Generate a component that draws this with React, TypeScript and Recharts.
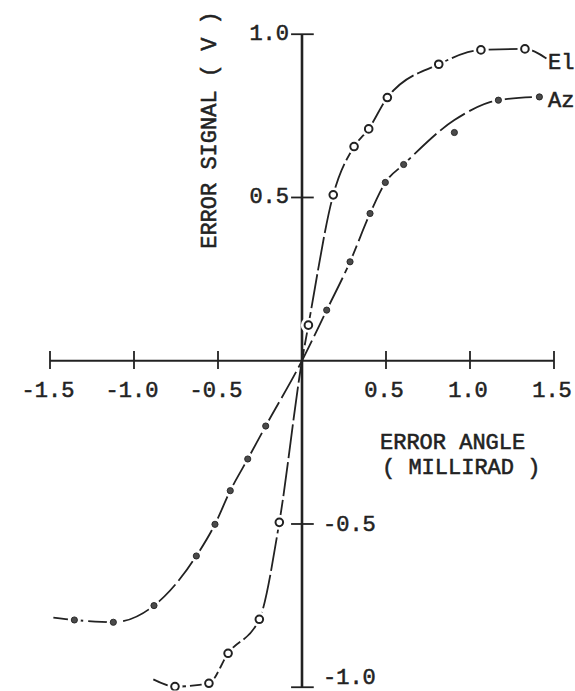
import React from 'react';
import { ComposedChart, Line, Scatter, XAxis, YAxis, ReferenceLine, ReferenceDot } from 'recharts';

// Measured points (open circles) – elevation channel
const elAngle = [-0.756, -0.554, -0.44, -0.254, -0.135, 0.038, 0.186, 0.31, 0.397, 0.508, 0.814, 1.065, 1.327];
const elSignal = [-0.998, -0.988, -0.896, -0.792, -0.495, 0.109, 0.508, 0.656, 0.71, 0.806, 0.908, 0.952, 0.955];
// Drawn curve – elevation channel
const elCurveAngle = [-0.885, -0.756, -0.554, -0.44, -0.254, -0.135, 0, 0.038, 0.186, 0.31, 0.397, 0.508, 0.814, 1.065, 1.327, 1.455];
const elCurveSignal = [-0.976, -0.998, -0.988, -0.896, -0.792, -0.495, 0, 0.109, 0.508, 0.656, 0.71, 0.806, 0.908, 0.952, 0.955, 0.926];

// Measured points (filled dots) – azimuth channel
const azAngle = [-1.355, -1.123, -0.881, -0.629, -0.518, -0.427, -0.323, -0.216, 0.147, 0.286, 0.405, 0.496, 0.605, 0.907, 1.169, 1.413];
const azSignal = [-0.794, -0.801, -0.75, -0.598, -0.501, -0.398, -0.301, -0.2, 0.155, 0.303, 0.451, 0.546, 0.601, 0.699, 0.798, 0.808];
// Drawn curve – azimuth channel
const azCurveAngle = [-1.48, -1.355, -1.123, -0.881, -0.629, -0.518, -0.427, -0.323, -0.216, 0, 0.147, 0.286, 0.405, 0.496, 0.605, 0.907, 1.169, 1.413];
const azCurveSignal = [-0.787, -0.794, -0.801, -0.75, -0.598, -0.501, -0.398, -0.301, -0.2, 0, 0.155, 0.303, 0.451, 0.546, 0.601, 0.737, 0.798, 0.808];

const xTickValues = [-1.5, -1.0, -0.5, 0.5, 1.0, 1.5];
const xTickLabels = ['-1.5', '-1.0', '-0.5', '0.5', '1.0', '1.5'];
const yTickValues = [1.0, 0.5, -0.5, -1.0];
const yTickLabels = ['1.0', '0.5', '-0.5', '-1.0'];

const seriesNames = ['El', 'Az'];
const xTitle = ['ERROR ANGLE', '( MILLIRAD )'];
const yTitle = 'ERROR SIGNAL ( V )';

const zip = (xs: number[], ys: number[]) => xs.map((x, i) => ({ x, y: ys[i] }));

const elPoints = zip(elAngle, elSignal);
const elCurve = zip(elCurveAngle, elCurveSignal);
const azPoints = zip(azAngle, azSignal);
const azCurve = zip(azCurveAngle, azCurveSignal);

const INK = '#222';
const FONT = {
  fontFamily: '"Liberation Mono", "DejaVu Sans Mono", monospace',
  fontSize: 22,
  fill: INK,
  stroke: INK,
  strokeWidth: 0.55,
};

const ElMarker = (p: any) => (
  <g>
    <circle cx={p.cx} cy={p.cy} r={7.5} fill="#fff" />
    <circle cx={p.cx} cy={p.cy} r={3.8} fill="#fff" stroke={INK} strokeWidth={2} />
  </g>
);

const AzMarker = (p: any) => (
  <g>
    <circle cx={p.cx} cy={p.cy} r={6.5} fill="#fff" />
    <circle cx={p.cx} cy={p.cy} r={3.1} fill="#4a4a4a" stroke={INK} strokeWidth={0.9} />
  </g>
);

export default function App() {
  return (
    <div style={{ position: 'absolute', left: 0, top: 0, width: 575, height: 691, background: '#fff' }}>
      <ComposedChart
        width={575}
        height={691}
        margin={{ top: 17.9, right: 4.2, bottom: 0.5, left: 8 }}
      >
        <XAxis type="number" dataKey="x" domain={[-1.75, 1.6]} hide allowDataOverflow />
        <YAxis type="number" dataKey="y" domain={[-1.01, 1.05]} hide allowDataOverflow />

        <Line data={elCurve} dataKey="y" type="monotone" stroke={INK} strokeWidth={1.8} strokeDasharray="34 4" dot={false} isAnimationActive={false} />
        <Line data={azCurve} dataKey="y" type="monotone" stroke={INK} strokeWidth={1.8} strokeDasharray="30 5" dot={false} isAnimationActive={false} />
        <Scatter data={elPoints} dataKey="y" shape={ElMarker} isAnimationActive={false} />
        <Scatter data={azPoints} dataKey="y" shape={AzMarker} isAnimationActive={false} />

        {/* axes through the origin */}
        <ReferenceLine segment={[{ x: -1.5, y: 0 }, { x: 1.5, y: 0 }]} stroke={INK} strokeWidth={2} ifOverflow="visible" />
        <ReferenceLine segment={[{ x: 0, y: -1 }, { x: 0, y: 1 }]} stroke={INK} strokeWidth={2.6} ifOverflow="visible" />
        {xTickValues.map((t) => (
          <ReferenceLine key={'xt' + t} segment={[{ x: t, y: -0.025 }, { x: t, y: 0.03 }]} stroke={INK} strokeWidth={1.8} ifOverflow="visible" />
        ))}
        {yTickValues.map((t) => (
          <ReferenceLine key={'yt' + t} segment={[{ x: -0.065, y: t }, { x: 0.07, y: t }]} stroke={INK} strokeWidth={1.8} ifOverflow="visible" />
        ))}

        {xTickValues.map((t, i) => (
          <ReferenceDot
            key={'xl' + t}
            x={t}
            y={0}
            r={0}
            ifOverflow="visible"
            shape={(p: any) => (
              <text x={p.cx - 2} y={p.cy + 36} textAnchor="middle" {...FONT}>
                {xTickLabels[i]}
              </text>
            )}
          />
        ))}
        {yTickValues.map((t, i) => (
          <ReferenceDot
            key={'yl' + t}
            x={0}
            y={t}
            r={0}
            ifOverflow="visible"
            shape={(p: any) =>
              t > 0 ? (
                <text x={p.cx - 13} y={p.cy + 6} textAnchor="end" {...FONT}>
                  {yTickLabels[i]}
                </text>
              ) : (
                <text x={p.cx + 21} y={p.cy + (t <= -1 ? -3 : 7)} textAnchor="start" {...FONT}>
                  {yTickLabels[i]}
                </text>
              )
            }
          />
        ))}

        <text x={380} y={449} {...FONT}>{xTitle[0]}</text>
        <text x={382} y={474} {...FONT}>{xTitle[1]}</text>
        <text transform="translate(216,130) rotate(-90)" textAnchor="middle" {...FONT}>{yTitle}</text>
        <text x={548} y={69} {...FONT}>{seriesNames[0]}</text>
        <text x={548} y={107} {...FONT}>{seriesNames[1]}</text>
      </ComposedChart>
    </div>
  );
}
